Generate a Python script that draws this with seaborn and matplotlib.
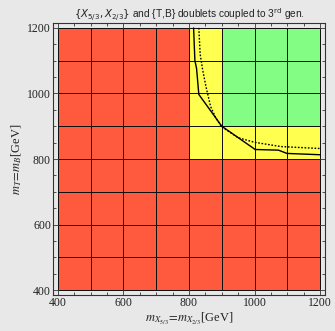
import numpy as np
import pandas as pd
import matplotlib
matplotlib.use("Agg")
import matplotlib.pyplot as plt
from matplotlib.colors import ListedColormap
from matplotlib.ticker import MultipleLocator
import seaborn as sns

sns.set_style("white")
plt.rcParams["font.family"] = ["Liberation Serif", "DejaVu Serif"]
plt.rcParams["mathtext.fontset"] = "stix"

# Mass grid (GeV): bin edges along each axis
mass_edges = [400, 500, 600, 700, 800, 900, 1000, 1100, 1200]
# Status per cell: 0 = excluded, 1 = intermediate, 2 = allowed
# rows listed from the top mass bin (1100-1200) down to (400-500)
status_rows = [
    [0, 0, 0, 0, 1, 2, 2, 2],
    [0, 0, 0, 0, 1, 2, 2, 2],
    [0, 0, 0, 0, 1, 2, 2, 2],
    [0, 0, 0, 0, 1, 1, 1, 1],
    [0, 0, 0, 0, 0, 0, 0, 0],
    [0, 0, 0, 0, 0, 0, 0, 0],
    [0, 0, 0, 0, 0, 0, 0, 0],
    [0, 0, 0, 0, 0, 0, 0, 0],
]
status_colors = ["#ff5a3e", "#ffff4f", "#84fd84"]

# Exclusion contours
solid_x = [814, 818, 823, 830, 900, 1002, 1073, 1099, 1200]
solid_y = [1200, 1100, 1077, 997, 900, 829, 827, 817, 813]
dotted_x = [830, 834, 842, 852, 866, 882, 900, 950, 1000, 1080, 1200]
dotted_y = [1200, 1120, 1070, 1020, 960, 925, 898, 865, 851, 838, 832]

lo, hi = 385, 1215
bg = "#e8e8e8"

fig = plt.figure(figsize=(3.35, 3.31), dpi=100, facecolor=bg)
rect = [53 / 335, 36 / 331, 272 / 335, 272 / 331]

# Cell map
ax_map = fig.add_axes(rect)
ax_map.set_facecolor(bg)
grid = pd.DataFrame(status_rows,
                    index=mass_edges[-1:0:-1],
                    columns=mass_edges[:-1])
sns.heatmap(grid, ax=ax_map, cmap=ListedColormap(status_colors),
            vmin=-0.5, vmax=2.5, cbar=False,
            linewidths=0.55, linecolor="#111111")
n = len(mass_edges) - 1
step = mass_edges[1] - mass_edges[0]
ax_map.set_xlim((lo - mass_edges[0]) / step, (hi - mass_edges[0]) / step)
ax_map.set_ylim(n + (mass_edges[0] - lo) / step, n - (hi - mass_edges[0]) / step)
ax_map.axis("off")
# Outer border of the cell block
ax_map.plot([0, n, n, 0, 0], [0, 0, n, n, 0], color="#111111", lw=0.7)

# Overlay axes in GeV for the contours and the frame
ax = fig.add_axes(rect)
ax.set_facecolor("none")
sns.lineplot(x=solid_x, y=solid_y, ax=ax, color="black", lw=1.0,
             sort=False, estimator=None)
sns.lineplot(x=dotted_x, y=dotted_y, ax=ax, color="black", lw=1.0,
             linestyle=(0, (1.2, 1.2)), sort=False, estimator=None)
ax.set_xlim(lo, hi)
ax.set_ylim(lo, hi)
for s in ax.spines.values():
    s.set_visible(True)
    s.set_color("#333333")
    s.set_linewidth(0.8)
ax.xaxis.set_major_locator(MultipleLocator(200))
ax.yaxis.set_major_locator(MultipleLocator(200))
ax.xaxis.set_minor_locator(MultipleLocator(50))
ax.yaxis.set_minor_locator(MultipleLocator(50))
ax.tick_params(which="both", direction="in", top=True, right=True,
               bottom=True, left=True, color="#333333", width=0.6)
ax.tick_params(which="major", length=4, labelsize=8.5, pad=1.5,
               labelcolor="#222222")
ax.tick_params(which="minor", length=2)

ax.set_xlabel(r"$m_{X_{5/3}}\!=\!m_{X_{2/3}}$[GeV]", fontsize=9,
              labelpad=1, color="#222222")
ax.set_ylabel(r"$m_T\!=\!m_B$[GeV]", fontsize=9, labelpad=2,
              color="#222222")
ax.set_title(r"$\{X_{5/3},X_{2/3}\}$ and {T,B} doublets coupled to 3$^{\rm rd}$ gen.",
             fontsize=7.3, family=["Liberation Sans", "DejaVu Sans"],
             math_fontfamily="dejavusans", pad=3, color="#222222")

fig.savefig("out.png", dpi=100, facecolor=bg)
